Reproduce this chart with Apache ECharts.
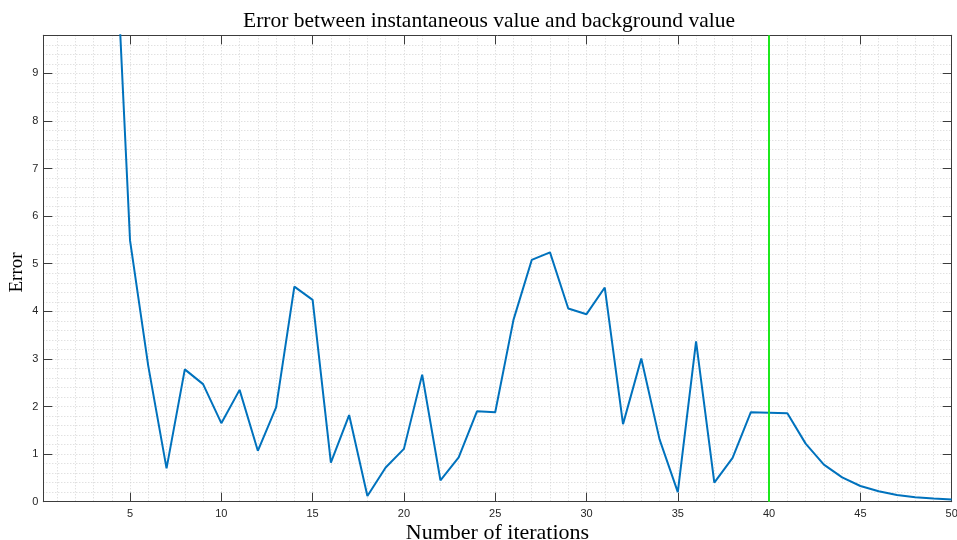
<!DOCTYPE html>
<html>
<head>
<meta charset="utf-8">
<title>Error between instantaneous value and background value</title>
<script src="https://cdn.jsdelivr.net/npm/echarts@6/dist/echarts.min.js"></script>
<style>
  html, body { margin: 0; padding: 0; background: #fff; }
  #chart { width: 957px; height: 540px; }
</style>
</head>
<body>
<div id="chart"></div>
<script>
// Iteration index and the error measured at each iteration
const iterations = [
  1, 2, 3, 4, 5, 6, 7, 8, 9, 10,
  11, 12, 13, 14, 15, 16, 17, 18, 19, 20,
  21, 22, 23, 24, 25, 26, 27, 28, 29, 30,
  31, 32, 33, 34, 35, 36, 37, 38, 39, 40,
  41, 42, 43, 44, 45, 46, 47, 48, 49, 50
];
const errors = [
  48.6, 31.2, 20.5, 13.6, 5.49, 2.85, 0.70, 2.78, 2.47, 1.65,
  2.35, 1.07, 1.98, 4.52, 4.24, 0.82, 1.82, 0.12, 0.72, 1.11,
  2.67, 0.45, 0.93, 1.90, 1.88, 3.82, 5.08, 5.24, 4.06, 3.94,
  4.50, 1.63, 3.01, 1.31, 0.20, 3.37, 0.40, 0.92, 1.88, 1.87,
  1.86, 1.22, 0.78, 0.51, 0.33, 0.22, 0.14, 0.095, 0.065, 0.045
];
// Iteration at which the reference marker is drawn
const markerIteration = 40;

// Labelled ticks
const xTicks = [5, 10, 15, 20, 25, 30, 35, 40, 45, 50];
const yTicks = [0, 1, 2, 3, 4, 5, 6, 7, 8, 9];

// Axis limits
const xMin = 0.25, xMax = 50;
const yMin = 0, yMax = 9.8;

// Fine grid: every iteration on x, every 0.2 on y
const xGrid = [];
for (let i = 1; i <= 50; i++) xGrid.push(i);
const yGrid = [];
for (let i = 1; i <= 49; i++) yGrid.push(Math.round(i * 0.2 * 10) / 10);

const AXIS_COLOR = '#3c3c3c';
const LABEL_STYLE = { fontFamily: 'Liberation Sans', fontSize: 11, color: '#262626' };
const SERIF = 'Liberation Serif';

const points = iterations.map((it, i) => [it, errors[i]]);

const frameAxis = (extra) => Object.assign({
  type: 'value',
  axisLine: { show: true, onZero: false, lineStyle: { color: AXIS_COLOR, width: 1 } },
  splitLine: { show: false },
  minorTick: { show: false },
  minorSplitLine: { show: false }
}, extra);

const gridAxis = (extra) => Object.assign({
  type: 'value',
  axisLine: { show: false },
  axisLabel: { show: false },
  splitLine: { show: true, lineStyle: { color: '#d4d4d4', width: 1, type: [1, 2] } }
}, extra);

const chart = echarts.init(document.getElementById('chart'), null, { renderer: 'canvas' });

chart.setOption({
  animation: false,
  backgroundColor: '#ffffff',
  title: {
    text: 'Error between instantaneous value and background value',
    left: 484,
    top: 5,
    textAlign: 'center',
    textStyle: { fontFamily: SERIF, fontWeight: 'normal', fontSize: 21.5, color: '#000' }
  },
  grid: {
    left: 43.3,
    right: 5.3,
    top: 35.3,
    bottom: 38.3,
    outerBoundsMode: 'none',
    containLabel: false
  },
  xAxis: [
    frameAxis({
      position: 'bottom',
      min: xMin, max: xMax,
      axisTick: { show: true, inside: true, length: 9, customValues: xTicks, lineStyle: { color: AXIS_COLOR } },
      axisLabel: Object.assign({ show: true, margin: 7, customValues: xTicks }, LABEL_STYLE),
      name: 'Number of iterations',
      nameLocation: 'middle',
      nameMoveOverlap: false,
      nameGap: 21,
      nameTextStyle: { fontFamily: SERIF, fontSize: 22, color: '#000' }
    }),
    frameAxis({
      position: 'top',
      min: xMin, max: xMax,
      axisTick: { show: true, inside: true, length: 9, customValues: xTicks, lineStyle: { color: AXIS_COLOR } },
      axisLabel: { show: false }
    }),
    gridAxis({
      position: 'bottom',
      min: xMin, max: xMax,
      axisTick: { show: false, customValues: xGrid }
    })
  ],
  yAxis: [
    frameAxis({
      position: 'left',
      min: yMin, max: yMax,
      axisTick: { show: true, inside: true, length: 9, customValues: yTicks, lineStyle: { color: AXIS_COLOR } },
      axisLabel: Object.assign({ show: true, margin: 5, customValues: yTicks }, LABEL_STYLE),
      name: 'Error',
      nameLocation: 'middle',
      nameMoveOverlap: false,
      nameGap: 17,
      nameTextStyle: { fontFamily: SERIF, fontSize: 19, color: '#000', padding: [0, 8, 0, 0] }
    }),
    frameAxis({
      position: 'right',
      min: yMin, max: yMax,
      axisTick: { show: true, inside: true, length: 9, customValues: yTicks, lineStyle: { color: AXIS_COLOR } },
      axisLabel: { show: false }
    }),
    gridAxis({
      position: 'left',
      min: yMin, max: yMax,
      axisTick: { show: false, customValues: yGrid }
    })
  ],
  series: [{
    type: 'line',
    xAxisIndex: 0,
    yAxisIndex: 0,
    data: points,
    showSymbol: false,
    symbol: 'none',
    clip: true,
    lineStyle: { color: '#0072BD', width: 2 },
    z: 3,
    markLine: {
      silent: true,
      symbol: ['none', 'none'],
      label: { show: false },
      lineStyle: { color: '#1de81d', width: 2, type: 'solid' },
      data: [{ xAxis: markerIteration }]
    }
  }]
});
</script>
</body>
</html>
